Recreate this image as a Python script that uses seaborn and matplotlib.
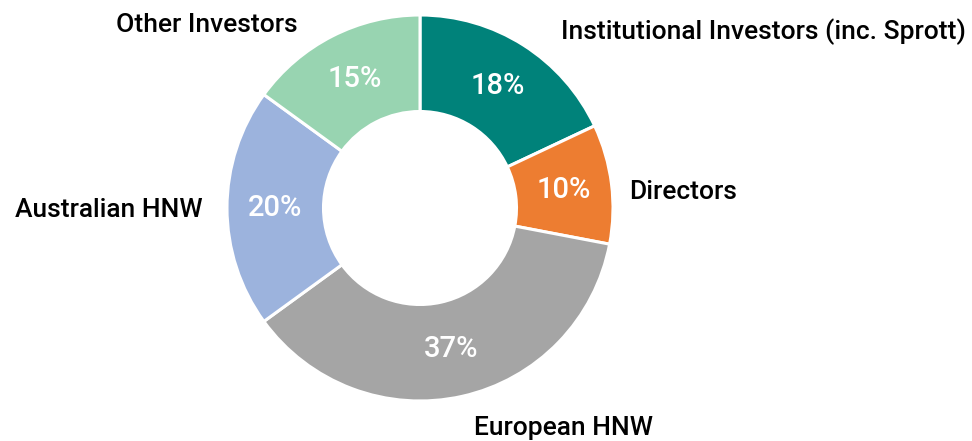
import matplotlib
matplotlib.use('Agg')
import matplotlib.pyplot as plt
import seaborn as sns

# Shareholder breakdown
groups = ['Institutional Investors (inc. Sprott)', 'Directors', 'European HNW',
          'Australian HNW', 'Other Investors']
shares = [18, 10, 37, 20, 15]
colors = ['#00827A', '#ED7D31', '#A5A5A5', '#9CB3DD', '#98D4B1']

sns.set_theme(style='white')
plt.rcParams['font.family'] = ['Roboto', 'DejaVu Sans']

fig = plt.figure(figsize=(9.72, 4.41), dpi=100)
ax = fig.add_axes([0, 0, 1, 1])

wedges, texts, pcts = ax.pie(
    shares, colors=colors, startangle=90, counterclock=False,
    radius=1.0, autopct='%1.0f%%', pctdistance=0.75,
    wedgeprops=dict(width=0.5, edgecolor='white', linewidth=2.2),
    textprops=dict(color='white', fontsize=21, fontweight='medium'))

# outside labels (position, alignment)
label_pos = [((1.777, 0.912), 'center'), ((1.083, 0.083), 'left'),
             ((0.741, -1.140), 'center'), ((-1.124, -0.010), 'right'),
             ((-0.632, 0.948), 'right')]
for name, ((x, y), ha) in zip(groups, label_pos):
    ax.text(x, y, name, ha=ha, va='center', fontsize=19,
            fontweight='medium', color='black')

# figure is 972x441 px, pie centre at (420, 208), radius 193 px
ax.set_xlim(-420 / 193, (972 - 420) / 193)
ax.set_ylim(-(441 - 208) / 193, 208 / 193)
ax.set_aspect('equal')
ax.axis('off')

fig.savefig('out.png', dpi=100)
